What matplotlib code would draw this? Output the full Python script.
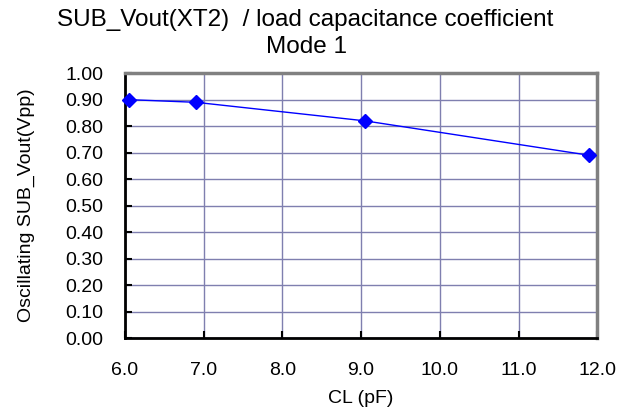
import matplotlib
matplotlib.use("Agg")
import matplotlib.pyplot as plt

plt.rcParams["font.family"] = ["Liberation Sans", "DejaVu Sans"]

# Load capacitance (pF) vs oscillating output amplitude (Vpp)
CL_PF = [6.05, 6.9, 9.05, 11.9]
VOUT_VPP = [0.90, 0.89, 0.82, 0.69]

X_TICKS = [6.0, 7.0, 8.0, 9.0, 10.0, 11.0, 12.0]
Y_TICKS = [0.0, 0.1, 0.2, 0.3, 0.4, 0.5, 0.6, 0.7, 0.8, 0.9, 1.0]

TITLE = "SUB_Vout(XT2)  / load capacitance coefficient"
SUBTITLE = "Mode 1"
X_LABEL = "CL (pF)"
Y_LABEL = "Oscillating SUB_Vout(Vpp)"


def main() -> None:
    fig = plt.figure(figsize=(6.34, 4.18), dpi=100)
    ax = fig.add_axes([0.197, 0.191, 0.745, 0.634])

    ax.plot(CL_PF, VOUT_VPP, color="#0000FF", linewidth=1.0,
            marker="D", markersize=7, markeredgecolor="#0000FF",
            markerfacecolor="#0000FF", clip_on=False, zorder=3)

    ax.set_xlim(6.0, 12.0)
    ax.set_ylim(0.0, 1.0)
    ax.set_xticks(X_TICKS)
    ax.set_yticks(Y_TICKS)
    ax.set_xticklabels([f"{v:.1f}" for v in X_TICKS])
    ax.set_yticklabels([f"{v:.2f}" for v in Y_TICKS])

    ax.grid(True, color="#7F7FAF", linewidth=1.0)
    ax.set_axisbelow(True)

    ax.tick_params(axis="x", direction="in", length=5, width=1.5,
                   pad=17, labelsize=14, top=False)
    ax.tick_params(axis="y", direction="in", length=5, width=1.5,
                   pad=15.5, labelsize=14, right=False)

    for side in ("left", "bottom"):
        ax.spines[side].set_color("#000000")
        ax.spines[side].set_linewidth(2.0)
    for side in ("top", "right"):
        ax.spines[side].set_color("#808080")
        ax.spines[side].set_linewidth(2.5)

    ax.set_xlabel(X_LABEL, fontsize=14, labelpad=8)
    ax.set_ylabel(Y_LABEL, fontsize=14, labelpad=22)

    fig.text(0.481, 1 - 20 / 418, TITLE, fontsize=17.5, ha="center", va="center")
    fig.text(0.483, 1 - 47 / 418, SUBTITLE, fontsize=17.5, ha="center", va="center")

    fig.savefig("out.png", dpi=100)


if __name__ == "__main__":
    main()
